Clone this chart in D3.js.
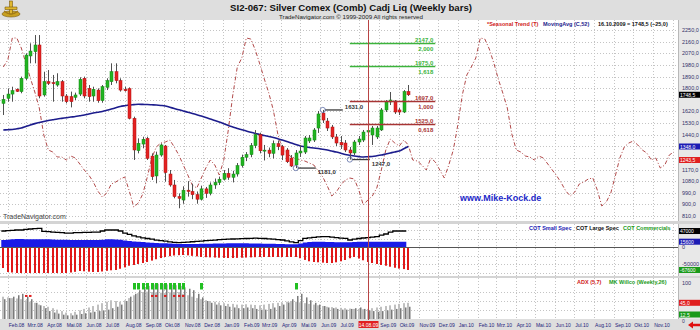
<!DOCTYPE html>
<html>
<head>
<meta charset="utf-8">
<script src="https://cdn.jsdelivr.net/npm/d3@7"></script>
<style>
html,body{margin:0;padding:0;background:#fff;}
svg{display:block;font-family:"Liberation Sans",Arial,sans-serif;}
</style>
</head>
<body>
<svg id="chart" width="700" height="330"></svg>
<script>
// ---- weekly bars, Silver Comex (SI2), first bar 25.01.2008 ----
const firstBar = new Date(2008, 0, 25);
const open  = [1682,1721,1754,1791,1773,1876,2049,2082,2134,1747,1850,1842,1824,1850,1739,1734,1729,1754,1876,1798,1739,1785,1703,1806,1850,1927,1858,1791,1796,1566,1316,1367,1411,1274,1120,1282,1352,1135,1050,960,934,1010,1000,975,940,1020,985,1050,1070,1095,1140,1110,1135,1200,1265,1285,1355,1440,1315,1320,1295,1370,1347,1321,1259,1205,1298,1305,1391,1398,1491,1607,1545,1499,1422,1380,1375,1321,1298,1383,1398,1460,1437,1422,1476,1631,1693,1700,1631,1615,1774];
const high  = [1747,1798,1811,1798,1889,2069,2147,2211,2211,1927,1940,1902,1915,1863,1754,1773,1765,1884,1889,1824,1811,1798,1824,1876,1992,1992,1876,1811,1806,1579,1411,1424,1424,1295,1308,1372,1360,1166,1089,985,1040,1080,1060,1000,1045,1035,1070,1100,1115,1165,1180,1160,1220,1285,1305,1375,1475,1455,1360,1340,1395,1395,1360,1336,1282,1321,1360,1429,1437,1491,1623,1631,1569,1515,1445,1429,1398,1344,1398,1429,1476,1491,1507,1507,1646,1708,1770,1708,1646,1785,1824];
const low   = [1592,1695,1695,1770,1760,1863,1992,1992,1721,1734,1824,1695,1811,1695,1682,1651,1708,1739,1721,1695,1695,1687,1687,1785,1824,1837,1773,1773,1558,1244,1295,1334,1244,1089,1063,1269,1076,1037,947,870,905,960,940,905,930,950,970,1020,1050,1085,1090,1070,1115,1185,1235,1265,1335,1295,1240,1265,1255,1320,1243,1220,1189,1181,1267,1290,1375,1383,1453,1530,1468,1406,1352,1329,1305,1247,1282,1360,1383,1352,1360,1406,1468,1615,1669,1600,1592,1607,1739];
const close = [1713,1754,1780,1775,1876,2056,2087,2134,1739,1850,1837,1835,1850,1739,1695,1695,1747,1868,1739,1734,1791,1703,1811,1858,1927,1858,1785,1780,1566,1321,1373,1404,1256,1114,1282,1360,1146,1050,960,947,1010,1000,975,940,1020,985,1050,1070,1095,1140,1110,1135,1200,1265,1285,1355,1440,1315,1320,1295,1370,1347,1282,1230,1197,1298,1313,1414,1414,1476,1600,1553,1491,1422,1375,1360,1321,1298,1383,1406,1460,1472,1491,1491,1631,1693,1708,1615,1615,1773.5,1748.5];

// 52-week moving average of the close
const ma52 = [1476,1478,1480,1485,1491,1503,1515,1525,1534,1542,1549,1555,1561,1566,1571,1576,1580,1586,1592,1600,1607,1613,1619,1628,1638,1648,1658,1664,1669,1672,1675,1674,1673,1671,1669,1666,1662,1652,1642,1632,1623,1614,1604,1594,1584,1573,1561,1550,1538,1525,1511,1499,1487,1478,1468,1458,1449,1441,1433,1426,1418,1408,1398,1387,1375,1364,1352,1346,1340,1336,1333,1327,1321,1313,1305,1296,1286,1280,1274,1270,1267,1269,1271,1276,1282,1290,1298,1306,1313,1330,1348];

// seasonal trend index, weekly from 25.01.2008 to 12.2010
const seasonal = [143,150,172,172,162,147,132,118,102,75,60,58,53,53,50,54,52,46,40,35,28,19,13,17,26,28,31,33,19,3,7,16,33,52,63,67,68,70,63,55,45,35,25,22,32,42,50,45,35,50,80,115,
  143,152,172,171,160,146,131,117,100,76,61,57,53,52,50,49,47,45,39,33,24,14,18,25,30,32,31,20,5,10,14,22,40,60,71,67,64,70,65,50,49,45,40,52,48,40,32,45,60,85,115,135,
  143,152,172,171,161,147,131,117,102,76,60,58,54,53,50,54,52,46,40,34,27,19,14,18,26,28,31,32,20,4,8,17,34,52,63,67,69,65,60,57,50,52,42,45,55,58];

// COT net positions (contracts)
const cotLarge = [47000,48000,49000,50000,50000,52000,53000,54000,55000,46000,45000,44000,43000,42000,41000,41000,42000,42000,43000,43000,44000,44000,47000,50000,50000,50000,47000,41000,37000,33000,29500,27000,25000,23000,20500,19000,17000,15000,13500,12600,13500,14500,15500,16500,17500,18500,19500,20500,21500,22500,23000,23500,24000,24500,25000,25500,26000,25600,25000,24000,23000,21500,20600,18000,15000,12600,19000,25600,27000,28500,29500,30300,30300,29000,27500,26000,25600,20600,23000,25000,26500,27500,29000,30300,35000,38200,44000,47000,47000,47000,47000];
const cotSmall = [20600,21500,22500,23500,23500,23000,22600,22600,22600,22600,22600,22000,21500,21000,21000,20600,20600,20600,20600,20600,20600,20600,21500,22600,22600,22000,21000,19000,17500,16000,15600,14500,13500,12500,11500,11000,10900,10000,9500,9000,8800,8800,8800,9000,9200,9500,9800,10000,10300,10600,10900,10900,10900,10900,10900,10500,10200,10000,9800,9500,9200,9000,8500,8200,7900,7900,10000,13000,15000,15600,15600,15300,15000,14500,14200,13800,13800,14200,14800,15200,15600,15600,15600,15600,15600,15600,15600,15600,15600,15600,15600];
const cotComm = [-61800,-73500,-75000,-76500,-76500,-76500,-76500,-76500,-76500,-76500,-76500,-76500,-76500,-76500,-76500,-75000,-73000,-70600,-71500,-72500,-73500,-73500,-72000,-70000,-68500,-67600,-64000,-60000,-55000,-52900,-50000,-47000,-44100,-40000,-36000,-32500,-29400,-27000,-25000,-24000,-23500,-24500,-26000,-27500,-29400,-30000,-30500,-31000,-31500,-32000,-32400,-32400,-32000,-31500,-31000,-30500,-30000,-29400,-29400,-29400,-29400,-29400,-29400,-29400,-29400,-29400,-33000,-38000,-42000,-44100,-45000,-46000,-47100,-47100,-45000,-42000,-38200,-33000,-29400,-34000,-39000,-44100,-47000,-50000,-52900,-55000,-58000,-61000,-63500,-65000,-67600];

// ADX (5,7) and MK Willco (Weekly,26)
const adx    = [62,60,58,57,55,52,48,45,40,36,34,30,26,22,18,16,20,24,28,32,36,40,44,48,52,50,48,52,58,66,72,75,76,75,74,73,72,74,75,75,70,66,62,58,55,52,50,48,46,44,42,42,40,40,41,40,39,38,40,42,44,45,46,48,50,48,46,44,42,40,38,36,34,33,32,31,30,29,28,28,27,28,30,32,34,36,38,40,42,44,45];
const willco = [55,58,62,66,70,62,55,45,38,30,22,18,15,12,10,10,12,14,16,18,20,22,24,26,30,34,40,50,62,70,80,88,92,96,98,97,96,95,94,92,88,84,80,70,60,50,45,40,38,36,34,32,30,30,32,30,28,26,26,28,32,36,40,46,55,64,70,60,52,45,40,36,32,30,28,26,26,28,30,32,28,24,22,20,22,24,26,28,30,32,34];
// weeks flagged by the indicators
const willcoSignal = [29,30,31,32,33,34,35,36,37,38,39,40,44,65];
const adxSignal    = [5,6,33,34,36,38,39,40];
const adxSignalLevel = 64;
const willcoLast = 12.5;

// month names for the time axis
const monthNames = ["Jan","Feb","Mrz","Apr","Mai","Jun","Jul","Aug","Sep","Okt","Nov","Dez"];

// Fibonacci extension levels
const fibRatios = ["2,000","1,618","1,000","0,618"];
const fibValues = [2147, 1975, 1697, 1525];
const fibColors = ["#3cb43c","#3cb43c","#a83434","#a83434"];

// marked pivots
const pivotBars   = [71, 65, 77];
const pivotValues = [1631, 1181, 1247];

const cursorBar = 81;   // 14.08.2009

// ---------------------------------------------------------------
const svg = d3.select("#chart");
const W = 700, H = 330, plotR = 678;
const P = { main: [20, 221], cot: [224, 276], ind: [278, 319] };

const barDates = open.map((d, i) => d3.timeWeek.offset(firstBar, i));
const seasDates = seasonal.map((d, i) => d3.timeWeek.offset(firstBar, i));
const lastBar = barDates[barDates.length - 1];

const x = d3.scaleTime().domain([firstBar, lastBar]).range([3.3, 408.3]);
const yP = d3.scaleLinear().domain([810, 2250]).range([216, 30]);
const yS = d3.scaleLinear().domain([0, 180]).range([210, 30]);
const yC = d3.scaleLinear().domain([-50000, 50000]).range([264, 230]);
const yI = d3.scaleLinear().domain([0, 100]).range([319, 283]);

const loc = d3.formatLocale({decimal: ",", thousands: "", grouping: [3], currency: ["", ""]});
const f1 = loc.format(".1f");

// backgrounds
svg.append("rect").attr("width", W).attr("height", H).attr("fill", "#ffffff");
svg.append("rect").attr("x", 0).attr("y", 0).attr("width", W).attr("height", 20).attr("fill", "#dedede");
svg.append("rect").attr("x", plotR).attr("y", 20).attr("width", W - plotR).attr("height", 300).attr("fill", "#e8e8e8");
svg.append("line").attr("x1", plotR + 0.5).attr("x2", plotR + 0.5).attr("y1", 20).attr("y2", 319).attr("stroke", "#b8b8b8");
[[221, 224], [276, 278]].forEach(([a, b]) => {
  svg.append("rect").attr("x", 0).attr("y", a).attr("width", W).attr("height", b - a).attr("fill", "#d4d4d4");
});
svg.append("rect").attr("x", 0).attr("y", 319).attr("width", W).attr("height", 11).attr("fill", "#dedede");

// clip paths for each panel
const defs = svg.append("defs");
Object.entries(P).forEach(([k, [a, b]]) => {
  defs.append("clipPath").attr("id", "clip-" + k)
    .append("rect").attr("x", 0).attr("y", a).attr("width", plotR).attr("height", b - a);
});

// month grid lines
const months = d3.timeMonth.range(new Date(2008, 1, 1), new Date(2010, 11, 2));
const grid = svg.append("g").attr("stroke", "#c4c4c4").attr("stroke-dasharray", "1,2");
Object.values(P).forEach(([a, b]) => {
  grid.selectAll(null).data(months).join("line")
    .attr("x1", d => Math.round(x(d)) + 0.5).attr("x2", d => Math.round(x(d)) + 0.5)
    .attr("y1", a).attr("y2", b);
});
// horizontal grid lines
const priceTicks = d3.range(810, 2251, 90);
grid.selectAll(null).data(priceTicks).join("line")
  .attr("x1", 0).attr("x2", plotR).attr("y1", d => Math.round(yP(d)) + 0.5).attr("y2", d => Math.round(yP(d)) + 0.5);
const cotGrid = [50000, 25000, -25000, -50000, -75000];
grid.selectAll(null).data(cotGrid).join("line")
  .attr("x1", 0).attr("x2", plotR).attr("y1", d => Math.round(yC(d)) + 0.5).attr("y2", d => Math.round(yC(d)) + 0.5);
const indGrid = [25, 50, 75];
grid.selectAll(null).data(indGrid).join("line")
  .attr("x1", 0).attr("x2", plotR).attr("y1", d => Math.round(yI(d)) + 0.5).attr("y2", d => Math.round(yI(d)) + 0.5);

// ---------------- main panel ----------------
const gMain = svg.append("g").attr("clip-path", "url(#clip-main)");

// seasonal trend
gMain.append("path")
  .datum(seasonal)
  .attr("fill", "none").attr("stroke", "#b24a4a").attr("stroke-width", 1)
  .attr("stroke-dasharray", "4,2,1,2")
  .attr("d", d3.line().x((d, i) => x(seasDates[i])).y(d => yS(d)));

// moving average
gMain.append("path")
  .datum(ma52)
  .attr("fill", "none").attr("stroke", "#1c1c8c").attr("stroke-width", 1.6)
  .attr("d", d3.line().x((d, i) => x(barDates[i])).y(d => yP(d)).curve(d3.curveMonotoneX));

// candles
const candles = gMain.append("g");
const cData = open.map((o, i) => ({o, h: high[i], l: low[i], c: close[i], d: barDates[i]}));
candles.selectAll("line").data(cData).join("line")
  .attr("x1", d => Math.round(x(d.d)) + 0.5).attr("x2", d => Math.round(x(d.d)) + 0.5)
  .attr("y1", d => yP(d.h)).attr("y2", d => yP(d.l))
  .attr("stroke", "#505050").attr("stroke-width", 1);
candles.selectAll("rect").data(cData).join("rect")
  .attr("x", d => Math.round(x(d.d)) - 1)
  .attr("width", 3)
  .attr("y", d => yP(Math.max(d.o, d.c)))
  .attr("height", d => Math.max(1, Math.abs(yP(d.o) - yP(d.c))))
  .attr("fill", d => d.c >= d.o ? "#22b422" : "#e42222")
  .attr("stroke", d => d.c >= d.o ? "#138a13" : "#b01010").attr("stroke-width", 0.5);

// Fibonacci extension lines
const fibX0 = x(d3.timeWeek.offset(firstBar, 77.5)), fibX1 = x(d3.timeWeek.offset(firstBar, 96.5));
fibValues.forEach((v, i) => {
  const y = Math.round(yP(v)) + 0.5;
  gMain.append("line").attr("x1", fibX0).attr("x2", fibX1).attr("y1", y).attr("y2", y)
    .attr("stroke", fibColors[i]).attr("stroke-width", 1.5);
  gMain.append("text").attr("x", fibX1 - 2).attr("y", y - 2).attr("text-anchor", "end")
    .attr("font-size", 6).attr("font-weight", "bold").attr("fill", fibColors[i]).text(f1(v));
  gMain.append("text").attr("x", fibX1 - 2).attr("y", y + 7).attr("text-anchor", "end")
    .attr("font-size", 6).attr("font-weight", "bold").attr("fill", fibColors[i]).text(fibRatios[i]);
});

// pivot markers
pivotBars.forEach((b, i) => {
  const px = x(barDates[b]), py = yP(pivotValues[i]);
  gMain.append("line").attr("x1", px + 2).attr("x2", px + 20).attr("y1", py).attr("y2", py)
    .attr("stroke", "#3a3a3a").attr("stroke-width", 1.3);
  gMain.append("circle").attr("cx", px).attr("cy", py).attr("r", 2.6)
    .attr("fill", "none").attr("stroke", "#6070a8").attr("stroke-width", 0.8);
  const above = i === 0;
  gMain.append("text").attr("x", px + 22).attr("y", above ? py - 1 : py + 6)
    .attr("font-size", 6).attr("font-weight", "bold").attr("fill", "#333").text(f1(pivotValues[i]));
});

// legends
const leg = svg.append("g").attr("font-size", 5.5).attr("font-weight", "bold");
leg.append("text").attr("x", 487).attr("y", 26).attr("fill", "#d02020").text("*Seasonal Trend (T)");
leg.append("text").attr("x", 543).attr("y", 26).attr("fill", "#1c1c8c").text("MovingAvg (C,52)");
leg.append("text").attr("x", 598).attr("y", 26).attr("fill", "#111").text("16.10.2009 = " + f1(close[close.length - 1]) + " (" + f1(close[close.length - 1] - close[close.length - 2]) + ")");

svg.append("text").attr("x", 460).attr("y", 201).attr("font-size", 9).attr("font-weight", "bold")
  .attr("fill", "#1c28c8").text("www.Mike-Kock.de");
svg.append("text").attr("x", 3).attr("y", 219).attr("font-size", 7).attr("fill", "#444").text("TradeNavigator.com");

// value boxes on the right scale; tick labels under a box stay hidden
const boxYs = [];
function valueBox(y, bg, txt, fg) {
  boxYs.push(y);
  const g = svg.append("g");
  g.append("rect").attr("x", 679).attr("y", y - 3).attr("width", 21).attr("height", 6).attr("fill", bg);
  g.append("text").attr("x", 680).attr("y", y + 2).attr("font-size", 5).attr("fill", fg || "#fff").text(txt);
}
const free = y => boxYs.every(b => Math.abs(b - y) > 5);

valueBox(yP(close[close.length - 1]), "#000", f1(close[close.length - 1]));
valueBox(yP(ma52[ma52.length - 1]), "#1c1cb4", f1(ma52[ma52.length - 1]));
valueBox(yS(seasonal[91]), "#e02020", f1(yP.invert(yS(seasonal[91]))));

const ax = svg.append("g").attr("font-size", 5.5).attr("fill", "#33336a");
ax.selectAll(null).data(priceTicks.filter(d => free(yP(d)))).join("text")
  .attr("x", 682).attr("y", d => yP(d) + 2).text(d => f1(d));

// ---------------- COT panel ----------------
const gCot = svg.append("g").attr("clip-path", "url(#clip-cot)");
gCot.append("g").selectAll("rect").data(cotComm).join("rect")
  .attr("x", (d, i) => Math.round(x(barDates[i])) - 1).attr("width", 2)
  .attr("y", yC(0)).attr("height", d => yC(d) - yC(0)).attr("fill", "#e01818");
gCot.append("path").datum(cotSmall)
  .attr("fill", "#1a1ae6")
  .attr("d", d3.area().x((d, i) => x(barDates[i]) - 2).y0(yC(0)).y1(d => yC(d)).curve(d3.curveStepAfter));
gCot.append("path").datum(cotLarge)
  .attr("fill", "none").attr("stroke", "#000").attr("stroke-width", 1.3)
  .attr("d", d3.line().x((d, i) => x(barDates[i]) - 2).y(d => yC(d)).curve(d3.curveStepAfter));
svg.append("line").attr("x1", 0).attr("x2", plotR).attr("y1", Math.round(yC(0)) + 0.5).attr("y2", Math.round(yC(0)) + 0.5)
  .attr("stroke", "#555").attr("stroke-width", 1);

const cl = svg.append("g").attr("font-size", 5.5).attr("font-weight", "bold");
cl.append("text").attr("x", 529).attr("y", 230).attr("fill", "#1c1cb4").text("COT Small Spec");
cl.append("text").attr("x", 576).attr("y", 230).attr("fill", "#111").text("COT Large Spec");
cl.append("text").attr("x", 623).attr("y", 230).attr("fill", "#1a9a1a").text("COT Commercials");

valueBox(yC(cotLarge[90]), "#000", cotLarge[90]);
valueBox(yC(cotSmall[90]), "#1c1cb4", cotSmall[90]);
valueBox(yC(cotComm[90]), "#1a9a1a", cotComm[90]);
const cax = svg.append("g").attr("font-size", 5.5).attr("fill", "#33336a");
[50000, 0, -50000].filter(v => free(yC(v))).forEach(v => cax.append("text").attr("x", 682).attr("y", yC(v) + 2).text(v));

// ---------------- ADX / Willco panel ----------------
const gInd = svg.append("g").attr("clip-path", "url(#clip-ind)");
gInd.append("g").selectAll("rect").data(adx).join("rect")
  .attr("x", (d, i) => Math.round(x(barDates[i])) - 1).attr("width", 2)
  .attr("y", d => yI(d)).attr("height", d => yI(0) - yI(d)).attr("fill", "#c0c0c0");
gInd.append("g").selectAll("rect").data(willco).join("rect")
  .attr("x", (d, i) => Math.round(x(barDates[i])) + 1).attr("width", 1.5)
  .attr("y", d => yI(d)).attr("height", d => yI(0) - yI(d)).attr("fill", "#7a7a7a");
gInd.append("g").selectAll("rect").data(willcoSignal).join("rect")
  .attr("x", i => Math.round(x(barDates[i])) - 1).attr("width", 3)
  .attr("y", yI(100)).attr("height", yI(82) - yI(100)).attr("fill", "#22c022");
gInd.append("g").selectAll("rect").data(adxSignal).join("rect")
  .attr("x", i => Math.round(x(barDates[i])) - 1).attr("width", 2.5)
  .attr("y", yI(adxSignalLevel) - 1).attr("height", 2).attr("fill", "#e02020");

const il = svg.append("g").attr("font-size", 5.5).attr("font-weight", "bold");
il.append("text").attr("x", 577).attr("y", 284).attr("fill", "#d02020").text("ADX (5,7)");
il.append("text").attr("x", 609).attr("y", 284).attr("fill", "#1a9a1a").text("MK Willco (Weekly,26)");
valueBox(yI(adx[90]), "#e02020", f1(adx[90]));
valueBox(yI(willcoLast), "#1a9a1a", f1(willcoLast));
const iax = svg.append("g").attr("font-size", 5.5).attr("fill", "#33336a");
iax.append("text").attr("x", 682).attr("y", yI(100) + 2).text(100);
iax.append("text").attr("x", 682).attr("y", yI(0) + 3.5).attr("font-size", 5).text(0);

// ---------------- cursor and time axis ----------------
const cx = Math.round(x(barDates[cursorBar])) + 0.5;
svg.append("line").attr("x1", cx).attr("x2", cx).attr("y1", 20).attr("y2", 320)
  .attr("stroke", "#b84444").attr("stroke-width", 1);

const tax = svg.append("g").attr("font-size", 5).attr("fill", "#22227a");
tax.selectAll(null)
  .data(months.filter(d => (x(d) + 16 < cx - 10 || x(d) > cx + 10) && x(d) + 17 < plotR))
  .join("text")
  .attr("x", d => x(d) + 1).attr("y", 327)
  .text(d => monthNames[d.getMonth()] + "." + String(d.getFullYear()).slice(2));
const fmtDay = d3.timeFormat("%d.%m.%y");
svg.append("rect").attr("x", cx - 10).attr("y", 321).attr("width", 20).attr("height", 7).attr("fill", "#e02020");
svg.append("text").attr("x", cx).attr("y", 327).attr("text-anchor", "middle").attr("font-size", 5)
  .attr("fill", "#fff").text(fmtDay(barDates[cursorBar]));
svg.append("path").attr("d", "M688,325 L693,321.5 L693,323.8 L700,323.8 L700,326.2 L693,326.2 L693,328.5 Z").attr("fill", "#e01010");

// ---------------- header ----------------
svg.append("text").attr("x", 351).attr("y", 11).attr("text-anchor", "middle")
  .attr("font-size", 9.6).attr("font-weight", "bold").attr("fill", "#111")
  .text("SI2-067:  Silver Comex (Comb) Cadj Liq  (Weekly bars)");
svg.append("text").attr("x", 351).attr("y", 18.5).attr("text-anchor", "middle")
  .attr("font-size", 6.2).attr("fill", "#222")
  .text("TradeNavigator.com © 1999-2009 All rights reserved");

// logo
const logo = svg.append("g").attr("transform", "translate(11,9)");
logo.append("ellipse").attr("rx", 9).attr("ry", 3).attr("cy", 5).attr("fill", "#c8a020").attr("stroke", "#7a5a10").attr("stroke-width", 0.6);
logo.append("rect").attr("x", -1.5).attr("y", -8).attr("width", 3).attr("height", 13).attr("fill", "#e0b830").attr("stroke", "#7a5a10").attr("stroke-width", 0.6);
logo.append("path").attr("d", "M-6,-2 L6,-2 L6,0.5 L-6,0.5 Z").attr("fill", "#e0b830").attr("stroke", "#7a5a10").attr("stroke-width", 0.6);
logo.append("path").attr("d", "M-7,2 Q0,8 7,2").attr("fill", "none").attr("stroke", "#a07818").attr("stroke-width", 1.2);
</script>
</body>
</html>
